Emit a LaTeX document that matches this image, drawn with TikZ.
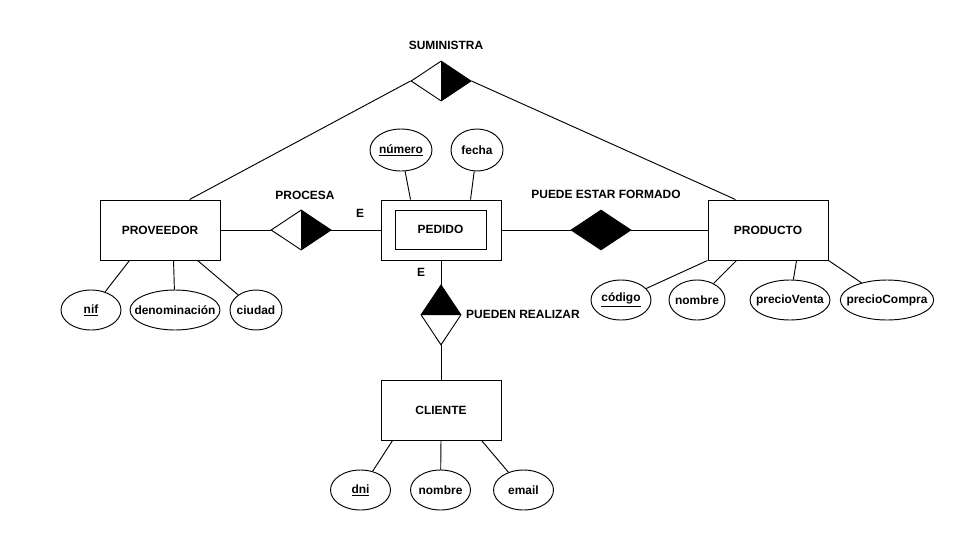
\documentclass[tikz,border=0pt]{standalone}
\usepackage{fontspec}
\setmainfont{Liberation Sans}
\usepackage{tikz}
\usetikzlibrary{shapes.geometric,calc}

% texto de atributo sin ancho, para que la elipse no crezca
\newcommand{\atxt}[1]{\makebox[0pt]{#1}}

\begin{document}
\begin{tikzpicture}[x=0.03cm, y=-0.03cm, line width=0.8pt,
    every node/.style={font=\fontsize{10.2}{12}\selectfont\bfseries},
    entity/.style={rectangle, draw, minimum width=3.6cm, minimum height=1.8cm, inner sep=0pt},
    attr/.style={ellipse, draw, minimum width=1.8cm, minimum height=1.2cm, inner sep=0pt},
    rel/.style={diamond, draw, minimum width=1.8cm, minimum height=1.2cm, inner sep=0pt}
]
\useasboundingbox (0,0) rectangle (967,550);

% entidades
\node[entity] (proveedor) at (160,230) {PROVEEDOR};
\node[entity] (pedido) at (441,230) {};
\node[draw, minimum width=2.73cm, minimum height=1.17cm, inner sep=0pt] (pedidoin) at (440.5,229.5) {PEDIDO};
\node[entity] (producto) at (768,230) {PRODUCTO};
\node[entity] (cliente) at (441,410) {CLIENTE};

% relaciones
\node[rel] (suministra) at (441,81) {};
\fill (suministra.north) -- (suministra.east) -- (suministra.south) -- cycle;
\node (sumlabel) at (446,45) {SUMINISTRA};

\node[rel] (procesa) at (301,230) {};
\fill (procesa.north) -- (procesa.east) -- (procesa.south) -- cycle;
\node (proclabel) at (305,195) {PROCESA};
\node (procE) at (360,213) {E};

\node[rel, fill] (formado) at (601,230) {};
\node (formlabel) at (606,194) {PUEDE ESTAR FORMADO};

\node[rel, minimum width=1.2cm, minimum height=1.8cm] (realizar) at (441,315) {};
\fill (realizar.west) -- (realizar.north) -- (realizar.east) -- cycle;
\node (reallabel) at (523,314) {PUEDEN REALIZAR};
\node (realE) at (421,272) {E};

% atributos
\node[attr, minimum width=1.86cm, minimum height=1.26cm] (numero) at (401,150) {\atxt{\underline{número}}};
\node[attr, minimum width=1.56cm, minimum height=1.26cm] (fecha) at (477,150) {\atxt{fecha}};

\node[attr] (nif) at (91,310) {\atxt{\underline{nif}}};
\node[attr, minimum width=2.7cm] (denom) at (175,310) {\atxt{denominación}};
\node[attr, minimum width=1.56cm] (ciudad) at (256,310) {\atxt{ciudad}};

\node[attr] (codigo) at (621,300) {\atxt{\underline{código}}};
\node[attr, minimum width=1.68cm] (nombreprod) at (697,300) {\atxt{nombre}};
\node[attr, minimum width=2.4cm] (pventa) at (790,300) {\atxt{precioVenta}};
\node[attr, minimum width=2.8cm] (pcompra) at (887,300) {\atxt{precioCompra}};

\node[attr] (dni) at (360.5,490) {\atxt{\underline{dni}}};
\node[attr] (nombrecli) at (440.5,490) {\atxt{nombre}};
\node[attr] (email) at (523.5,490) {\atxt{email}};

% lineas
\draw (suministra.west) -- ($(proveedor.north west)+(90,0)$);
\draw (suministra.east) -- ($(producto.north west)+(28,0)$);
\draw (proveedor.east) -- (procesa.west);
\draw (procesa.east) -- (pedido.west);
\draw (pedido.east) -- (formado.west);
\draw (formado.east) -- (producto.west);
\draw (pedido.south) -- (realizar.north);
\draw (realizar.south) -- (cliente.north);

\draw (numero) -- ($(pedido.north west)+(30,0)$);
\draw (fecha) -- ($(pedido.north west)+(90,0)$);

\draw (nif) -- ($(proveedor.south west)+(30,0)$);
\draw (denom) -- ($(proveedor.south west)+(74,0)$);
\draw (ciudad) -- ($(proveedor.south west)+(98,0)$);

\draw (codigo) -- (producto.south west);
\draw (nombreprod) -- ($(producto.south west)+(29,0)$);
\draw (pventa) -- ($(producto.south west)+(89,0)$);
\draw (pcompra) -- (producto.south east);

\draw (dni) -- ($(cliente.south west)+(12,0)$);
\draw (nombrecli) -- (cliente.south);
\draw (email) -- ($(cliente.south west)+(101,0)$);
\end{tikzpicture}
\end{document}
